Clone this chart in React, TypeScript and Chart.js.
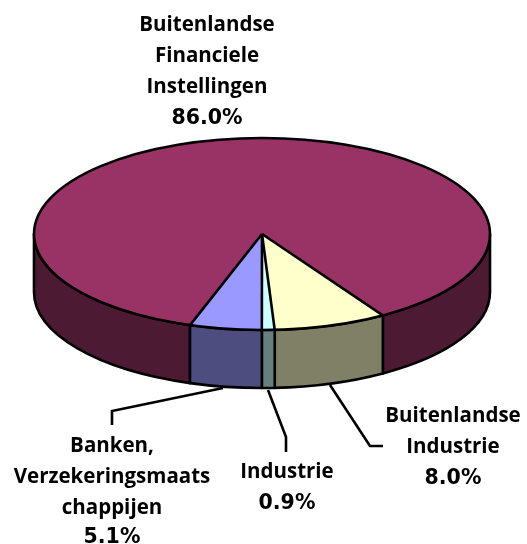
import React, { useEffect, useRef } from "react";
import { Chart, registerables } from "chart.js";

Chart.register(...registerables);

const categories = [
  ["Buitenlandse", "Financiele", "Instellingen"],
  ["Buitenlandse", "Industrie"],
  ["Industrie"],
  ["Banken,", "Verzekeringsmaats", "chappijen"],
];
const shares = [86.0, 8.0, 0.9, 5.1];
const topColors = ["#993366", "#FFFFCC", "#CCFFFF", "#9999FF"];
const sideColors = ["#4D1A33", "#808066", "#668080", "#4D4D80"];

// [centre x, first baseline] of each label block
const labelAnchors = [
  [207, 31],
  [453, 422],
  [287, 478],
  [112, 452],
];
const leaderLines = [
  [],
  [[330, 385], [370, 446], [383, 446]],
  [[268, 390], [286, 437], [286, 452]],
  [[223, 388], [112, 411], [112, 425]],
];

const CENTER_Y = 234;
const SQUASH = 96 / 228;
const DEPTH = 58;
const LINE_HEIGHT = 31;
const LINE_WIDTH = 2.6;
const FONT = "bold 20.5px 'Open Sans'";
const VALUE_FONT = "bold 20.5px 'DejaVu Sans'";

const pie3d = {
  id: "pie3d",
  beforeDatasetsDraw(chart: any) {
    const ctx = chart.ctx;
    const arcs = chart.getDatasetMeta(0).data;
    const { x: cx, outerRadius: R } = arcs[0];
    const k = SQUASH;
    const ex = (a: number) => cx + R * Math.cos(a);
    const ey = (a: number) => CENTER_Y + k * R * Math.sin(a);
    ctx.save();
    ctx.lineJoin = "round";
    arcs.forEach((arc: any, i: number) => {
      for (const shift of [-2 * Math.PI, 0, 2 * Math.PI]) {
        const a0 = Math.max(arc.startAngle, shift);
        const a1 = Math.min(arc.endAngle, shift + Math.PI);
        if (a1 <= a0) continue;
        ctx.beginPath();
        ctx.ellipse(cx, CENTER_Y, R, k * R, 0, a0, a1);
        ctx.lineTo(ex(a1), ey(a1) + DEPTH);
        ctx.ellipse(cx, CENTER_Y + DEPTH, R, k * R, 0, a1, a0, true);
        ctx.closePath();
        ctx.fillStyle = sideColors[i];
        ctx.fill();
        ctx.lineWidth = LINE_WIDTH;
        ctx.strokeStyle = "#000";
        ctx.stroke();
      }
    });
    ctx.restore();
  },
  beforeDatasetDraw(chart: any) {
    const ctx = chart.ctx;
    const arc = chart.getDatasetMeta(0).data[0];
    ctx.save();
    ctx.translate(0, CENTER_Y);
    ctx.scale(1, SQUASH);
    ctx.translate(0, -arc.y);
  },
  afterDatasetDraw(chart: any) {
    chart.ctx.restore();
  },
  afterDatasetsDraw(chart: any) {
    const ctx = chart.ctx;
    const arcs = chart.getDatasetMeta(0).data;
    const { x: cx, outerRadius: R } = arcs[0];
    ctx.save();
    ctx.strokeStyle = "#000";
    ctx.lineWidth = LINE_WIDTH;
    ctx.lineJoin = "round";
    ctx.beginPath();
    ctx.ellipse(cx, CENTER_Y, R, SQUASH * R, 0, 0, 2 * Math.PI);
    ctx.stroke();
    arcs.forEach((arc: any) => {
      ctx.beginPath();
      ctx.moveTo(cx, CENTER_Y);
      ctx.lineTo(cx + R * Math.cos(arc.startAngle), CENTER_Y + SQUASH * R * Math.sin(arc.startAngle));
      ctx.stroke();
    });
    ctx.restore();
  },
  afterDraw(chart: any) {
    const ctx = chart.ctx;
    ctx.save();
    ctx.strokeStyle = "#000";
    ctx.lineWidth = LINE_WIDTH;
    ctx.lineJoin = "miter";
    leaderLines.forEach((pts) => {
      if (!pts.length) return;
      ctx.beginPath();
      pts.forEach(([x, y], j) => (j ? ctx.lineTo(x, y) : ctx.moveTo(x, y)));
      ctx.stroke();
    });
    ctx.fillStyle = "#000";
    ctx.textAlign = "center";
    ctx.textBaseline = "alphabetic";
    categories.forEach((lines, i) => {
      const [x, y] = labelAnchors[i];
      ctx.font = FONT;
      lines.forEach((line, j) => ctx.fillText(line, x, y + j * LINE_HEIGHT));
      ctx.font = VALUE_FONT;
      ctx.fillText(shares[i].toFixed(1) + "%", x, y + lines.length * LINE_HEIGHT - (i === 3 ? 2 : 0));
    });
    ctx.restore();
  },
};

export default function App() {
  const ref = useRef<HTMLCanvasElement>(null);
  useEffect(() => {
    document.body.style.margin = "0";
    const chart = new Chart(ref.current!, {
      type: "pie",
      data: {
        labels: categories.map((c) => c.join(" ")),
        datasets: [
          {
            data: shares,
            backgroundColor: topColors,
            borderWidth: 0,
            clip: false,
          } as any,
        ],
      },
      options: {
        responsive: false,
        animation: false,
        rotation: 198.4,
        layout: { padding: { left: 34, right: 37, top: 44, bottom: 44 } },
        plugins: { legend: { display: false }, tooltip: { enabled: false } },
      },
      plugins: [pie3d],
    });
    return () => chart.destroy();
  }, []);
  return <canvas ref={ref} width={527} height={544} style={{ display: "block" }} />;
}
